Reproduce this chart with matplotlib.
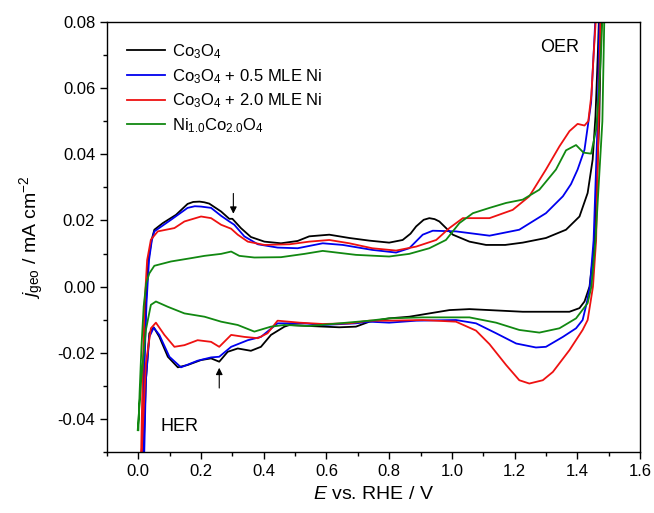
import matplotlib
matplotlib.use("Agg")
import matplotlib.pyplot as plt
from matplotlib.ticker import MultipleLocator, FormatStrFormatter

plt.rcParams['font.family'] = ['Liberation Sans', 'DejaVu Sans']
plt.rcParams['mathtext.fontset'] = 'custom'
plt.rcParams['mathtext.rm'] = 'Liberation Sans'
plt.rcParams['mathtext.it'] = 'Liberation Sans:italic'
plt.rcParams['mathtext.bf'] = 'Liberation Sans:bold'
plt.rcParams['axes.unicode_minus'] = False

# ---- data (E vs RHE / V, j / mA cm^-2) ----
labels = [r'Co$_3$O$_4$', r'Co$_3$O$_4$ + 0.5 MLE Ni', r'Co$_3$O$_4$ + 2.0 MLE Ni',
          r'Ni$_{1.0}$Co$_{2.0}$O$_4$']
colors = ['#000000', '#0000ee', '#ee1111', '#118811']

co3o4_E_an = [0.012, 0.018, 0.024, 0.032, 0.042, 0.051, 0.078, 0.12, 0.157, 0.175, 0.195, 0.21,
              0.226, 0.264, 0.29, 0.30, 0.327, 0.359, 0.402, 0.455, 0.508, 0.545, 0.609, 0.673,
              0.737, 0.80, 0.843, 0.868, 0.886, 0.91, 0.928, 0.945, 0.96, 1.003, 1.056, 1.109,
              1.17, 1.226, 1.30, 1.364, 1.407, 1.433, 1.449, 1.458, 1.466, 1.472]
co3o4_j_an = [-0.055, -0.025, -0.005, 0.008, 0.014, 0.0172, 0.0192, 0.0217, 0.025, 0.0256,
              0.0257, 0.0255, 0.0251, 0.0227, 0.0205, 0.0205, 0.0177, 0.015, 0.0136, 0.0131,
              0.0138, 0.0152, 0.0157, 0.0147, 0.0139, 0.0133, 0.0141, 0.016, 0.0182, 0.0202,
              0.0207, 0.0204, 0.0197, 0.0157, 0.0136, 0.0126, 0.0126, 0.0133, 0.0147, 0.0172,
              0.0212, 0.0283, 0.0384, 0.0515, 0.0717, 0.09]
co3o4_E_ca = [1.478, 1.47, 1.455, 1.449, 1.439, 1.423, 1.407, 1.375, 1.30, 1.226, 1.12, 1.056,
              0.992, 0.928, 0.864, 0.80, 0.737, 0.694, 0.641, 0.545, 0.482, 0.466, 0.423, 0.391,
              0.359, 0.317, 0.285, 0.258, 0.232, 0.20, 0.157, 0.126, 0.094, 0.067, 0.049, 0.035,
              0.024, 0.017, 0.014]
co3o4_j_ca = [0.09, 0.05, 0.014, 0.0081, 0.0, -0.0045, -0.0065, -0.0076, -0.0076, -0.0076,
              -0.0071, -0.0068, -0.0071, -0.0081, -0.0091, -0.0096, -0.0106, -0.0121, -0.0123,
              -0.0119, -0.0116, -0.0121, -0.0146, -0.0182, -0.0194, -0.0187, -0.0197, -0.0227,
              -0.0217, -0.0222, -0.0237, -0.0244, -0.0212, -0.0152, -0.0123, -0.0141, -0.0283,
              -0.0485, -0.055]

ni05_E_an = [0.012, 0.019, 0.026, 0.034, 0.043, 0.051, 0.104, 0.157, 0.18, 0.20, 0.232, 0.264,
             0.29, 0.306, 0.338, 0.381, 0.444, 0.508, 0.588, 0.652, 0.746, 0.822, 0.864, 0.907,
             0.939, 1.013, 1.12, 1.215, 1.30, 1.354, 1.38, 1.401, 1.423, 1.444, 1.455, 1.462]
ni05_j_an = [-0.055, -0.025, -0.005, 0.008, 0.014, 0.0167, 0.0202, 0.0238, 0.0243, 0.0242,
             0.0238, 0.0214, 0.0197, 0.0187, 0.0152, 0.0128, 0.0118, 0.0116, 0.0131, 0.0126,
             0.0111, 0.0103, 0.0116, 0.0157, 0.0169, 0.0167, 0.0154, 0.0172, 0.0222, 0.0273,
             0.031, 0.0354, 0.0414, 0.0556, 0.0758, 0.09]
ni05_E_ca = [1.472, 1.465, 1.452, 1.44, 1.43, 1.417, 1.396, 1.354, 1.30, 1.268, 1.205, 1.141,
             1.077, 1.013, 0.886, 0.80, 0.737, 0.694, 0.588, 0.53, 0.444, 0.391, 0.349, 0.296,
             0.258, 0.232, 0.189, 0.136, 0.099, 0.067, 0.049, 0.035, 0.024, 0.019, 0.017]
ni05_j_ca = [0.09, 0.05, 0.014, 0.0, -0.005, -0.0101, -0.0126, -0.0152, -0.0182, -0.0184, -0.0172,
             -0.0141, -0.0111, -0.0101, -0.0103, -0.0109, -0.0106, -0.0111, -0.0116, -0.0111,
             -0.0111, -0.0152, -0.0162, -0.0182, -0.0212, -0.0214, -0.0224, -0.0244, -0.0212,
             -0.0146, -0.0124, -0.0152, -0.0283, -0.0495, -0.055]

ni20_E_an = [0.008, 0.014, 0.02, 0.028, 0.04, 0.062, 0.115, 0.147, 0.20, 0.232, 0.264, 0.296,
             0.317, 0.349, 0.402, 0.482, 0.545, 0.609, 0.673, 0.746, 0.822, 0.886, 0.95, 0.992,
             1.035, 1.077, 1.12, 1.194, 1.247, 1.30, 1.343, 1.375, 1.401, 1.423, 1.435, 1.445,
             1.452, 1.46, 1.465]
ni20_j_an = [-0.055, -0.025, -0.005, 0.008, 0.0142, 0.0167, 0.0177, 0.0197, 0.0212, 0.0207,
             0.0187, 0.0175, 0.0157, 0.0136, 0.0126, 0.0128, 0.0136, 0.0141, 0.0131, 0.0116,
             0.0109, 0.0121, 0.0141, 0.0177, 0.0207, 0.0207, 0.0207, 0.0232, 0.0273, 0.0354,
             0.0424, 0.047, 0.0492, 0.0487, 0.05, 0.058, 0.07, 0.082, 0.09]
ni20_E_ca = [1.475, 1.468, 1.46, 1.45, 1.44, 1.433, 1.417, 1.375, 1.322, 1.29, 1.247, 1.215,
             1.173, 1.12, 1.077, 1.013, 0.907, 0.80, 0.737, 0.673, 0.588, 0.514, 0.444, 0.412,
             0.381, 0.338, 0.296, 0.258, 0.232, 0.189, 0.147, 0.115, 0.083, 0.056, 0.04, 0.024,
             0.011, 0.009]
ni20_j_ca = [0.09, 0.05, 0.014, 0.0, -0.006, -0.0101, -0.0131, -0.0192, -0.0258, -0.0283,
             -0.0293, -0.0283, -0.0237, -0.0174, -0.0133, -0.0106, -0.0101, -0.0103, -0.0103,
             -0.0111, -0.0113, -0.0109, -0.0103, -0.0141, -0.0156, -0.0152, -0.0146, -0.0182,
             -0.0167, -0.0162, -0.0177, -0.0182, -0.0146, -0.0109, -0.0126, -0.0232, -0.0495,
             -0.055]

nico_E_an = [0.0, 0.004, 0.01, 0.017, 0.025, 0.035, 0.051, 0.104, 0.168, 0.211, 0.264, 0.296,
             0.322, 0.37, 0.455, 0.53, 0.588, 0.694, 0.80, 0.864, 0.928, 0.981, 1.024, 1.067,
             1.12, 1.173, 1.226, 1.279, 1.332, 1.364, 1.396, 1.42, 1.444, 1.46, 1.47, 1.476,
             1.484]
nico_j_an = [-0.0434, -0.032, -0.018, -0.006, 0.001, 0.004, 0.0063, 0.0076, 0.0086, 0.0093,
             0.0099, 0.0106, 0.0093, 0.0088, 0.0089, 0.0099, 0.0108, 0.0096, 0.0091, 0.0099,
             0.0116, 0.0141, 0.0192, 0.0222, 0.0238, 0.0253, 0.0263, 0.0293, 0.0354, 0.0412,
             0.0428, 0.0405, 0.0402, 0.0475, 0.06, 0.0717, 0.09]
nico_E_ca = [1.488, 1.48, 1.458, 1.445, 1.433, 1.396, 1.343, 1.279, 1.215, 1.141, 1.056, 0.907,
             0.80, 0.737, 0.641, 0.545, 0.466, 0.423, 0.37, 0.317, 0.264, 0.211, 0.147, 0.094,
             0.056, 0.04, 0.024, 0.009, -0.002]
nico_j_ca = [0.09, 0.05, 0.014, 0.0, -0.005, -0.0096, -0.0126, -0.0139, -0.0131, -0.0109,
             -0.0093, -0.0093, -0.0096, -0.0103, -0.0111, -0.0119, -0.0116, -0.0121, -0.0136,
             -0.0116, -0.0106, -0.0091, -0.0081, -0.0061, -0.0045, -0.0055, -0.0131, -0.0283,
             -0.0434]

series = [
    (co3o4_E_an + co3o4_E_ca, co3o4_j_an + co3o4_j_ca),
    (ni05_E_an + ni05_E_ca, ni05_j_an + ni05_j_ca),
    (ni20_E_an + ni20_E_ca, ni20_j_an + ni20_j_ca),
    (nico_E_an + nico_E_ca, nico_j_an + nico_j_ca),
]

xticks = [0.0, 0.2, 0.4, 0.6, 0.8, 1.0, 1.2, 1.4, 1.6]
yticks = [-0.04, -0.02, 0.00, 0.02, 0.04, 0.06, 0.08]

fig = plt.figure(figsize=(6.54, 5.13), dpi=100)
ax = fig.add_axes([107/654, 1-452/513, 533/654, 430/513])

for (E, j), c, lab in zip(series, colors, labels):
    ax.plot(E, j, color=c, lw=1.3, label=lab, solid_joinstyle='round')

ax.set_xlim(-0.1, 1.6)
ax.set_ylim(-0.05, 0.08)
ax.set_xticks(xticks)
ax.set_yticks(yticks)
ax.xaxis.set_minor_locator(MultipleLocator(0.1))
ax.yaxis.set_minor_locator(MultipleLocator(0.01))
ax.xaxis.set_major_formatter(FormatStrFormatter('%.1f'))
ax.yaxis.set_major_formatter(FormatStrFormatter('%.2f'))
ax.tick_params(which='major', direction='out', length=5, width=1, labelsize=12, top=False, right=False)
ax.tick_params(which='minor', direction='out', length=3, width=1, top=False, right=False)
for s in ax.spines.values():
    s.set_linewidth(1.0)

ax.set_xlabel(r'$E$ vs. RHE / V', fontsize=14, labelpad=5)
ax.set_ylabel(r'$j_\mathregular{geo}$ / mA cm$^{-2}$', fontsize=14, labelpad=8)

ax.text(1.343, 0.0722, 'OER', fontsize=13, ha='center', va='center')
ax.text(0.131, -0.0424, 'HER', fontsize=13, ha='center', va='center')

ax.annotate('', xy=(0.303, 0.0212), xytext=(0.303, 0.0290),
            arrowprops=dict(arrowstyle='-|>', color='black', lw=0.8, mutation_scale=10))
ax.annotate('', xy=(0.258, -0.0237), xytext=(0.258, -0.0315),
            arrowprops=dict(arrowstyle='-|>', color='black', lw=0.8, mutation_scale=10))

ax.legend(loc='upper left', bbox_to_anchor=(0.0375, 0.953), frameon=False, fontsize=12,
          handlelength=2.3, handletextpad=0.4, labelspacing=0.36, borderpad=0, borderaxespad=0)

fig.savefig('out.png', dpi=100)
